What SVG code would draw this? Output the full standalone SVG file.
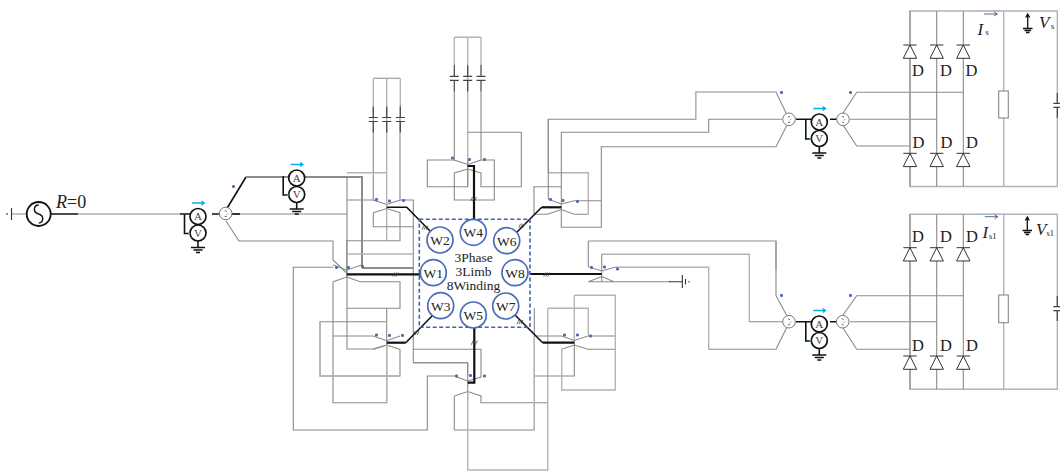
<svg xmlns="http://www.w3.org/2000/svg" width="1060" height="471" viewBox="0 0 1060 471">
<style>
text{font-family:"Liberation Serif","Times New Roman",serif;fill:#222}
.g,.l,.k,.h,.b,.c{fill:none}
.g{stroke:#8a8a8a;stroke-width:1.1}
.l{stroke:#b4b4b4;stroke-width:1.4}
.h{stroke:#8c8c8c;stroke-width:2}
.k{stroke:#111;stroke-width:1.6}
.b{stroke:#111;stroke-width:2.2}
.c{stroke:#00b0f0;stroke-width:1.6}
.m{stroke:#444;stroke-width:.8;fill:none}
.gnd{stroke:#333;stroke-width:1.1;fill:none}
.win{fill:#fff;stroke:#4a6cb8;stroke-width:1.7}
.wt{font-size:13.5px;text-anchor:middle}
.mid{font-size:13.5px;text-anchor:middle}
.dot{fill:#4a6cb8;rx:1.2px}
.meter{fill:#fff;stroke:#111;stroke-width:1.7}
.mt{font-size:11px;text-anchor:middle;fill:#444}
.tr{fill:#fff;stroke:#777;stroke-width:1}
.dio{fill:#fff;stroke:#333;stroke-width:1}
.dl{font-size:16.5px}
.it{font-size:17px;font-style:italic}
.sub{font-size:8.5px}
.cap{stroke:#444;stroke-width:1.2;fill:none}
</style>
<defs>
<g id="meters">
<circle class="meter" cx="0" cy="0" r="8"/><circle class="meter" cx="0" cy="16.5" r="8"/>
<text class="mt" x="0" y="3.5">A</text><text class="mt" x="0" y="20.2">V</text>
<path class="k" d="M-13.500 -2V17H-9"/><path class="c" d="M-10 17H-8"/>
<path class="k" d="M0 24.500V31"/><path class="k" d="M-7 31H7M-4.500 33.500H4.500M-2 36H2"/>
<path class="c" d="M-6 -13.500H6M3.500 -15.500L6 -13.500L3.500 -11.500"/>
</g>
<g id="vcap">
<path class="cap" d="M0 -13V-2M0 2V13M-4.500 -2H4.500M-4.500 2H4.500"/>
</g>
<g id="dio">
<path class="dio" d="M-6.700 0H6.700M0 0L-6.700 13.300H6.700Z"/>
</g>
<g id="tcirc"><circle class="tr" cx="0" cy="0" r="6.300"/><path class="m" d="M-1 -3L1 -2M2 0L1 1M-1 3L1 3"/></g>
<path id="hash" class="m" d="M-3 2L-1 -2M-1 2L1 -2M1 2L3 -2"/>
</defs>

<g id="connectors">
<path class="g" d="M11 214H28M78 214H180"/>
<path class="k" d="M51 214H78M180 214H190M212 214H220"/>
<path class="k" d="M226 210L246 177"/>
<path class="h" d="M246 177H362V268M362 268H413"/>
<path class="g" d="M220 214H347M226 221L239 241H333V260L346.700 273"/>
<path class="k" d="M229 214H240"/>
<path class="g" d="M347 177V349H373L386.700 345"/>

<!-- W2 transformer -->
<path class="g" d="M373.300 118V200L386.700 204.500L400 200V118M373.300 78.300H400.300"/>
<path class="l" d="M373.300 78.300V118M386.700 78.300V240.700M400.300 78.300V118"/>
<path class="l" d="M347 172.700H386.700"/>
<path class="g" d="M347 200H373.300M400 200H413.300V362.700H467.700V376"/>
<path class="g" d="M373.300 212.700L386.700 208.500L400 212.700V240.700H347M373.300 212.700V226.700H413.300"/>
<path class="l" d="M347 254H413"/>
<path class="k" d="M386.700 207.300H406.700L431 232"/>

<!-- W1 transformer -->
<path class="g" d="M333 265L346.700 270L361.700 265M346.700 240V277M333 281.700L346.700 277L360 281.700H400V308.300H346.700M333 281.700V402.700H386.700V308.300"/>
<path class="g" d="M333.300 267.300H293.300V430H427.300V376H456.700"/>
<path class="b" d="M346.700 274.300H420"/>

<!-- W3 transformer -->
<path class="g" d="M333 336H373.300L386.700 340.700L400 336M373.300 349.500L386.700 345L400 349.500V376H320V321.700H386.700"/>
<path class="l" d="M386.700 345V402.700M320 321.700V376H400"/>
<path class="b" d="M386.700 342.700H405.700"/><path class="k" d="M405.700 342.700L433 315"/>

<!-- W4 transformer -->
<path class="l" d="M454.300 37.300V66M467.700 37.300V160M481 37.300V66M454.300 37.300H481M467.700 132.300V186"/>
<path class="g" d="M454.300 91V160L467.700 164.500L481 160V91"/>
<path class="g" d="M454.300 160H427.300V186.700H467.700V160M467.700 132.300H521.300V186.700H481V173L467.700 169L454.300 173V200H494.300V160H481"/>
<path class="b" d="M467.700 166H474V220"/>

<!-- W5 transformer -->
<path class="g" d="M467.700 362.700V400M413.300 362.700H467.700M413.300 349.300H481V377L467.700 381L456.700 377M454.300 396L467.700 391.500L481 396V402.700H547.700"/>
<path class="g" d="M454.300 396V430H534.300V308"/>
<path class="l" d="M467.700 391.500V470H547.700V308.300"/>
<path class="b" d="M474.300 327V382.700H467.700"/>

<!-- W6 transformer -->
<path class="l" d="M548.300 172.700V119.300M548.300 172.700H588.300V214.300"/>
<path class="g" d="M548.300 199.300V119.300H695.700V92H776L787 115"/>
<path class="l" d="M695.700 92V119.300"/>
<path class="g" d="M561.300 186.700V132.300H708.700V119.300H782M534 214.300V186.700H561.300V227.300H601.300V146.700H776L787 125"/>
<path class="g" d="M547.300 214.300H534M547.300 214.300L561.300 209.500L574.300 214.300H588.300M548.300 199.300L561.300 204L574.300 200.700H601.300"/>
<path class="b" d="M561.300 207.300H541.700"/><path class="k" d="M541.700 207.300L511 238"/>

<!-- W8 transformer -->
<path class="l" d="M588.300 241H776V270M601.700 254.300H749.300V321.700M615 267.300H708.700V349.300"/>
<path class="g" d="M588.300 241V266.700L601.700 271L615 267.300M601.700 254.300V281.700M588.300 281.700L601.700 276.500L614 281.700H670M588.300 281.700H614"/>
<path class="g" d="M776 241V295.700L787 316M749.300 321.700H783M708.700 349.300H776L787 327"/>
<path class="b" d="M530 274H601.700"/>
<path class="gnd" d="M669 281.700H682.300M682.300 275V288M685.500 279V284.500M689 281V282.500"/>

<!-- W7 transformer -->
<path class="g" d="M534.300 336H561.700L574.300 340.500L588 336H615M561.700 349.300L574.300 345L588 349.300H615M574.300 340V376H534.300"/>
<path class="l" d="M534.300 336V430M574.300 295.300V340M574.300 295.300H615.300V390H561.700V349.300M548 308.300H588.300V336"/>
<path class="b" d="M574.300 342.700H542.700"/><path class="k" d="M542.700 342.700L515 315"/>

<!-- rectifier feeds -->
<path class="k" d="M796 119.300H811M830 119.300H837M796 321.700H811M830 321.700H837"/>
<path class="g" d="M850 119.300H936.700M843 113L856.700 92.300H963.300M843 125L856.700 146H910"/>
<path class="g" d="M850 321.700H936.700M843 315L856.700 295.700H963.300M843 328L856.700 349.300H910"/>
</g>

<g id="source">
<path class="gnd" d="M11.500 208V220M7 213V215"/>
<circle cx="38.700" cy="214" r="12" fill="#fff" stroke="#111" stroke-width="1.800"/>
<path d="M38.700 205C34 205 32 212 38.700 214C45 216 43 223 38.700 223" fill="none" stroke="#111" stroke-width="1.400"/>
<text x="56" y="208" class="it" style="font-size:18px"><tspan>R</tspan><tspan font-style="normal">=0</tspan></text>
</g>

<g id="meter-input"><use href="#meters" x="198" y="216.500"/><use href="#tcirc" x="225.700" y="213.500"/></g>
<g id="meter-branch"><use href="#meters" x="296.700" y="178"/></g>
<g id="meter-s"><use href="#tcirc" x="789" y="119.300"/><use href="#meters" x="819.300" y="122"/><use href="#tcirc" x="843" y="119.300"/></g>
<g id="meter-s1"><use href="#tcirc" x="789" y="321.700"/><use href="#meters" x="819.300" y="324"/><use href="#tcirc" x="842.700" y="321.700"/></g>

<g id="capacitors">
<use href="#vcap" x="373.300" y="119.500"/><use href="#vcap" x="386.700" y="119.500"/><use href="#vcap" x="400.300" y="119.500"/>
<use href="#vcap" x="454.300" y="78.300"/><use href="#vcap" x="467.700" y="78.300"/><use href="#vcap" x="481" y="78.300"/>
</g>

<g id="polarity-dots">
<rect class="dot" x="232" y="185" width="3" height="3"/>
<rect class="dot" x="375" y="198" width="3" height="3"/><rect class="dot" x="388" y="199.500" width="3" height="3"/><rect class="dot" x="402" y="199" width="3" height="3"/>
<rect class="dot" x="335" y="266" width="3" height="3"/><rect class="dot" x="347" y="266" width="3" height="3"/><rect class="dot" x="361" y="265" width="3" height="3"/>
<rect class="dot" x="375" y="333.500" width="3" height="3"/><rect class="dot" x="388" y="334" width="3" height="3"/><rect class="dot" x="401" y="334" width="3" height="3"/>
<rect class="dot" x="451" y="156.500" width="3" height="3"/><rect class="dot" x="468" y="158" width="3" height="3"/><rect class="dot" x="483" y="158" width="3" height="3"/>
<rect class="dot" x="455" y="374.500" width="3" height="3"/><rect class="dot" x="469" y="374" width="3" height="3"/><rect class="dot" x="483" y="374.500" width="3" height="3"/>
<rect class="dot" x="549" y="198" width="3" height="3"/><rect class="dot" x="561.500" y="199" width="3" height="3"/><rect class="dot" x="576" y="200" width="3" height="3"/>
<rect class="dot" x="590" y="266" width="3" height="3"/><rect class="dot" x="603" y="265.500" width="3" height="3"/><rect class="dot" x="616" y="267.500" width="3" height="3"/>
<rect class="dot" x="563" y="333.500" width="3" height="3"/><rect class="dot" x="576" y="333.500" width="3" height="3"/><rect class="dot" x="589" y="334.500" width="3" height="3"/>
<rect class="dot" x="780" y="91" width="3" height="3"/><rect class="dot" x="849" y="91" width="3" height="3"/>
<rect class="dot" x="780" y="294" width="3" height="3"/><rect class="dot" x="849" y="294" width="3" height="3"/>
</g>

<g id="line-marks">
<use href="#hash" x="425" y="227.700"/><use href="#hash" x="473.500" y="199"/><use href="#hash" x="521.700" y="225.700"/>
<use href="#hash" x="395.300" y="274.500"/><use href="#hash" x="546.700" y="274.500"/>
<use href="#hash" x="416" y="333"/><use href="#hash" x="474.300" y="342.700"/><use href="#hash" x="520" y="322"/>
</g>

<g id="transformer">
<rect x="419.300" y="219.300" width="110.700" height="108" fill="none" stroke="#3f62b5" stroke-width="1.600" stroke-dasharray="4 2.500"/>
<text class="mid" x="473.500" y="262">3Phase</text>
<text class="mid" x="473.500" y="276">3Limb</text>
<text class="mid" x="473.500" y="290">8Winding</text>
</g>
<g id="W1"><circle class="win" cx="433.300" cy="272.700" r="13"/><text class="wt" x="433.300" y="277.500">W1</text></g>
<g id="W2"><circle class="win" cx="440" cy="240" r="13"/><text class="wt" x="440" y="245">W2</text></g>
<g id="W3"><circle class="win" cx="440.700" cy="305.700" r="13"/><text class="wt" x="440.700" y="310.500">W3</text></g>
<g id="W4"><circle class="win" cx="473.300" cy="232.300" r="13"/><text class="wt" x="473.300" y="237">W4</text></g>
<g id="W5"><circle class="win" cx="473.300" cy="315" r="13"/><text class="wt" x="473.300" y="320">W5</text></g>
<g id="W6"><circle class="win" cx="506.700" cy="240.700" r="13"/><text class="wt" x="506.700" y="245.500">W6</text></g>
<g id="W7"><circle class="win" cx="505.700" cy="306" r="13"/><text class="wt" x="505.700" y="311">W7</text></g>
<g id="W8"><circle class="win" cx="515" cy="272.700" r="13"/><text class="wt" x="515" y="277.500">W8</text></g>

<g id="rectifier-s">
<path class="l" d="M910 11H1057.300V186.500H910ZM1003.700 11V91M1003.700 118V186.500"/>
<path class="g" d="M910 11V186.500M936.700 11V186.500M963.300 11V186.500"/>
<path d="M977 11H1003" stroke="#a9bcde" stroke-width="1.200" fill="none"/>
<rect x="998.700" y="91" width="9.600" height="27" fill="#fff" stroke="#888" stroke-width="1.100"/>
<use href="#dio" x="910" y="45"/><use href="#dio" x="936.700" y="45"/><use href="#dio" x="963.300" y="45"/>
<use href="#dio" x="910" y="153.300"/><use href="#dio" x="936.700" y="153.300"/><use href="#dio" x="963.300" y="153.300"/>
<rect x="1055" y="104" width="4.500" height="3" fill="#fff"/>
<path class="cap" d="M1057.300 93V103.300M1057.300 107.300V118M1053.300 103.300H1060.700M1053.300 107.300H1060.700"/>
<text class="dl" x="912" y="76">D</text><text class="dl" x="940" y="76">D</text><text class="dl" x="965.500" y="76">D</text>
<text class="dl" x="912.500" y="148">D</text><text class="dl" x="940.500" y="148">D</text><text class="dl" x="966" y="148">D</text>
<text class="it" x="977.500" y="34.500">I</text><text class="sub" x="985.500" y="35">s</text>
<path class="m" d="M984 14H997.300M994 12L997.300 14L994 16"/>
<path class="k" style="stroke-width:1.300" d="M1027.700 14V28M1025.700 17.500L1027.700 14L1029.700 17.500M1023 28.500H1032.500M1024.500 30.500H1031M1026 32.500H1029.500"/>
<text class="it" x="1039" y="28">V</text><text class="sub" x="1051" y="29">s</text>
</g>

<g id="rectifier-s1">
<path class="l" d="M910 214.300H1057.300V389.300H910ZM1003.700 214.300V295M1003.700 322.700V389.300"/>
<path class="g" d="M910 214.300V389.300M936.700 214.300V389.300M963.300 214.300V389.300"/>
<path d="M977 214.300H1003" stroke="#a9bcde" stroke-width="1.200" fill="none"/>
<rect x="998.700" y="295" width="9.600" height="27.700" fill="#fff" stroke="#888" stroke-width="1.100"/>
<use href="#dio" x="910" y="247.700"/><use href="#dio" x="936.700" y="247.700"/><use href="#dio" x="963.300" y="247.700"/>
<use href="#dio" x="910" y="356"/><use href="#dio" x="936.700" y="356"/><use href="#dio" x="963.300" y="356"/>
<rect x="1055" y="307" width="4.500" height="3" fill="#fff"/>
<path class="cap" d="M1057.300 296V306.700M1057.300 310.700V321M1053.300 306.700H1060.700M1053.300 310.700H1060.700"/>
<text class="dl" x="912" y="242.300">D</text><text class="dl" x="940" y="242.300">D</text><text class="dl" x="966" y="242.300">D</text>
<text class="dl" x="912" y="350.700">D</text><text class="dl" x="940" y="350.700">D</text><text class="dl" x="966" y="350.700">D</text>
<text class="it" x="982.500" y="238.300">I</text><text class="sub" x="989" y="239">s1</text>
<path class="m" d="M984.700 216.700H997.700M994.500 214.700L997.700 216.700L994.500 218.700"/>
<path class="k" style="stroke-width:1.300" d="M1027.300 217V230M1025.300 220.500L1027.300 217L1029.300 220.500M1022.500 230.500H1032M1024 232.500H1030.500M1025.500 234.500H1029"/>
<text class="it" x="1036" y="235">V</text><text class="sub" x="1046.500" y="235.500">s1</text>
</g>
</svg>
